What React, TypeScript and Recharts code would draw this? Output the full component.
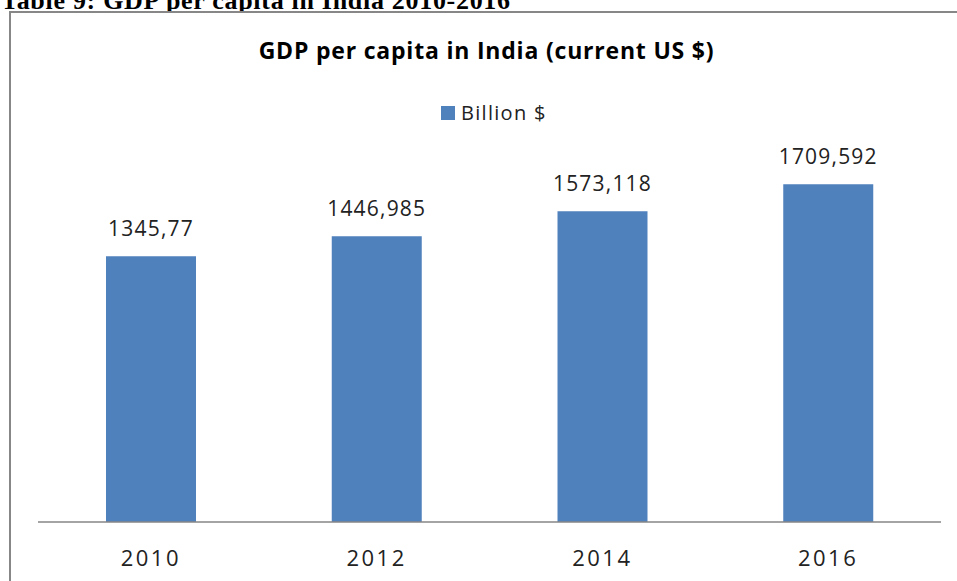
import React from "react";
import { BarChart, Bar, XAxis, YAxis, LabelList } from "recharts";

const years = ["2010", "2012", "2014", "2016"];
const gdpValues = [1345.77, 1446.985, 1573.118, 1709.592];
const valueLabels = ["1345,77", "1446,985", "1573,118", "1709,592"];
const seriesName = "Billion $";
const chartTitle = "GDP per capita in India (current US $)";
const captionText = "Table 9: GDP per capita in India 2010-2016";

const data = years.map((y, i) => ({ year: y, value: gdpValues[i], label: valueLabels[i] }));

const FONT = "'Open Sans', 'Noto Sans', sans-serif";

const Tick = (props: any) => {
  const { x, y, payload } = props;
  return (
    <text x={x} y={y + 36} textAnchor="middle" fill="#222" fontSize={22} fontFamily={FONT} letterSpacing={2.5}>
      {payload.value}
    </text>
  );
};

export default function App() {
  return (
    <div style={{ position: "absolute", left: 0, top: 0, width: 957, height: 581, overflow: "hidden", background: "#fff" }}>
      <div
        style={{
          position: "absolute",
          left: 1,
          top: -14,
          fontFamily: "'Liberation Serif', 'Times New Roman', serif",
          fontWeight: "bold",
          fontSize: 26,
          letterSpacing: 0.7,
          lineHeight: "normal",
          whiteSpace: "nowrap",
          color: "#000",
        }}
      >
        {captionText}
      </div>
      <div
        style={{
          position: "absolute",
          left: 9,
          top: 11,
          width: 960,
          height: 590,
          border: "2px solid #878787",
          background: "#fff",
        }}
      >
        <div
          style={{
            position: "absolute",
            left: 0,
            width: 951,
            top: 21,
            textAlign: "center",
            fontFamily: FONT,
            fontWeight: "bold",
            fontSize: 23,
            letterSpacing: 0.8,
            color: "#000",
            whiteSpace: "nowrap",
          }}
        >
          {chartTitle}
        </div>
        <div
          style={{
            position: "absolute",
            left: 430,
            top: 86,
            display: "flex",
            alignItems: "center",
            fontFamily: FONT,
            fontSize: 20,
            letterSpacing: 1.3,
            color: "#222",
            whiteSpace: "nowrap",
          }}
        >
          <span style={{ display: "inline-block", width: 14, height: 14, background: "#4F81BD", marginRight: 6 }} />
          <span>{seriesName}</span>
        </div>
        <div style={{ position: "absolute", left: 0, top: 0 }}>
          <BarChart width={946} height={570} data={data} margin={{ top: 114, right: 16, bottom: 31, left: 27 }} barCategoryGap="30%">
            <XAxis
              dataKey="year"
              axisLine={{ stroke: "#868686", strokeWidth: 1.5 }}
              tickLine={false}
              tick={<Tick />}
              height={30}
              interval={0}
            />
            <YAxis hide domain={[0, 2000]} />
            <Bar dataKey="value" fill="#4F81BD" barSize={90} isAnimationActive={false}>
              <LabelList
                dataKey="label"
                position="top"
                offset={20}
                fill="#222"
                fontSize={21}
                fontFamily={FONT}
                letterSpacing={1.2}
              />
            </Bar>
          </BarChart>
        </div>
      </div>
    </div>
  );
}
